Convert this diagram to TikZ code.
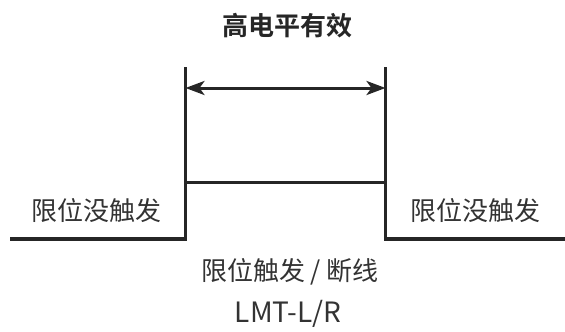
\documentclass[tikz,border=0pt]{standalone}
\usepackage{fontspec}
\setmainfont{Noto Sans CJK SC}
\newfontfamily\cjkbold{Noto Sans CJK SC Bold}
\usetikzlibrary{arrows.meta}
\tikzset{
  sig/.style={line width=3.8pt, line join=miter, draw=black!85},
  marker/.style={line width=2.8pt, draw=black!85},
  dim/.style={line width=3pt, draw=black!85, {Stealth[length=19pt,width=14pt,inset=5pt]}-{Stealth[length=19pt,width=14pt,inset=5pt]}},
  lbl/.style={inner sep=0pt, text=black!80, font=\fontsize{26}{30}\selectfont},
  code/.style={inner sep=0pt, text=black!80, font=\fontsize{28}{32}\selectfont},
  ttl/.style={inner sep=0pt, text=black!85, font=\cjkbold\fontsize{26}{30}\selectfont}
}
\begin{document}
\begin{tikzpicture}[x=1pt,y=-1pt]
\useasboundingbox (0,0) rectangle (565,332);
\coordinate (s0) at (10,239);
\coordinate (r0) at (185.5,239);
\coordinate (r1) at (185.5,182.5);
\coordinate (f1) at (385.5,182.5);
\coordinate (f0) at (385.5,239);
\coordinate (s1) at (565,239);
\coordinate (mlt) at (185.5,67);
\coordinate (mrt) at (385.5,67);
\coordinate (ml) at (185.5,88);
\coordinate (mr) at (385.5,88);
\node[ttl] (title) at (287,26) {高电平有效};
\draw[marker] (mlt) -- (r1);
\draw[marker] (mrt) -- (f1);
\draw[dim] (ml) -- (mr);
\draw[sig] (s0) -- (r0) -- (r1) -- (f1) -- (f0) -- (s1);
\node[lbl] (left) at (96,211) {限位没触发};
\node[lbl] (right) at (475,211) {限位没触发};
\node[lbl] (mid) at (290,272) {限位触发 / 断线};
\node[code] (code) at (288,314) {LMT-L/R};
\end{tikzpicture}
\end{document}
